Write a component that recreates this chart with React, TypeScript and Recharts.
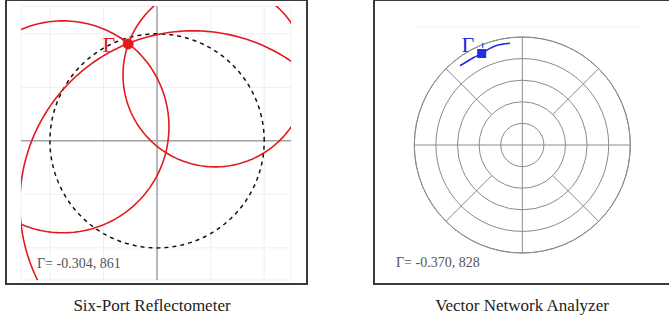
import React from "react";
import {
  ComposedChart,
  Line,
  XAxis,
  YAxis,
  CartesianGrid,
  ReferenceLine,
  ReferenceDot,
  RadarChart,
  PolarGrid,
} from "recharts";

const SERIF = '"Liberation Serif", "Times New Roman", serif';
const RED = "#e3191f";
const BLUE = "#1f2fe0";

// six-port panel (reflection plane, unit circle = |Γ| = 1)
const SP_X_TICKS = [-1, -0.5, 0, 0.5, 1];
const SP_Y_TICKS = [-1, -0.5, 0, 0.5, 1];
const SP_X_DOMAIN = [-1.27, 1.25];
const SP_Y_DOMAIN = [-1.3, 1.26];
const SP_CIRCLE_CX = [-0.879, 0.336, 0.542];
const SP_CIRCLE_CY = [0.131, -0.589, 0.617];
const SP_CIRCLE_R = [0.99, 1.617, 0.86];
const UNIT_CIRCLE_R = 1;
const SP_GAMMA = { x: -0.27, y: 0.905 };
const SP_READOUT = "Γ= -0.304, 861";

// VNA panel
const VNA_RINGS = [0.2, 0.4, 0.6, 0.8, 1];
const VNA_AXIS_ANGLES = [0, 90, 180, 270];
const VNA_DIAG_ANGLES = [45, 135, 225, 315];
const VNA_TRACE_RE = [-0.577, -0.515, -0.454, -0.376, -0.299, -0.253, -0.191, -0.114];
const VNA_TRACE_IM = [0.734, 0.771, 0.808, 0.847, 0.895, 0.917, 0.932, 0.942];
const VNA_GAMMA = { x: -0.376, y: 0.847 };
const VNA_READOUT = "Γ= -0.370, 828";

const VNA_OUTER = 108;

function circlePoints(cx: number, cy: number, r: number, steps = 240) {
  const pts = [];
  for (let i = 0; i <= steps; i++) {
    const t = (i / steps) * Math.PI * 2;
    pts.push({ x: cx + r * Math.cos(t), y: cy + r * Math.sin(t) });
  }
  return pts;
}

const vnaTrace = VNA_TRACE_RE.map((x, i) => ({ x, y: VNA_TRACE_IM[i] }));

const boxStyle: React.CSSProperties = {
  position: "absolute",
  top: -1,
  height: 286,
  border: "2px solid #3a3a3a",
  boxSizing: "border-box",
  background: "#fff",
};

const readoutStyle: React.CSSProperties = {
  position: "absolute",
  fontFamily: SERIF,
  fontSize: 14,
  color: "#555",
  whiteSpace: "nowrap",
};

const captionStyle: React.CSSProperties = {
  position: "absolute",
  top: 296,
  width: 300,
  textAlign: "center",
  fontFamily: SERIF,
  fontSize: 17,
  color: "#222",
};

function SixPort() {
  return (
    <ComposedChart
      width={310}
      height={285}
      margin={{ top: 6, left: 21, right: 19, bottom: 5 }}
      style={{ position: "absolute", left: 0, top: 0 }}
    >
      <XAxis dataKey="x" type="number" domain={SP_X_DOMAIN} ticks={SP_X_TICKS} allowDataOverflow hide />
      <YAxis dataKey="y" type="number" domain={SP_Y_DOMAIN} ticks={SP_Y_TICKS} allowDataOverflow hide />
      <CartesianGrid stroke="#efefef" strokeWidth={1} />
      <ReferenceLine x={0} stroke="#a3a3a3" strokeWidth={1.5} />
      <ReferenceLine y={0} stroke="#a3a3a3" strokeWidth={1.5} />
      <Line
        data={circlePoints(0, 0, UNIT_CIRCLE_R)}
        dataKey="y"
        name="unit"
        type="linear"
        dot={false}
        stroke="#111"
        strokeWidth={1.5}
        strokeDasharray="4 4"
        isAnimationActive={false}
      />
      {SP_CIRCLE_R.map((r, i) => (
        <Line
          key={i}
          data={circlePoints(SP_CIRCLE_CX[i], SP_CIRCLE_CY[i], r)}
          dataKey="y"
          name={`circle${i}`}
          type="linear"
          dot={false}
          stroke={RED}
          strokeWidth={1.6}
          isAnimationActive={false}
        />
      ))}
      <ReferenceDot
        x={SP_GAMMA.x}
        y={SP_GAMMA.y}
        r={5}
        fill={RED}
        stroke={RED}
        label={{ value: "Γ", position: "left", offset: 8, fill: RED, fontSize: 22, fontFamily: SERIF }}
      />
    </ComposedChart>
  );
}

function VnaGrid() {
  const chartProps = {
    width: 296,
    height: 285,
    cx: 148.3,
    cy: 145,
    outerRadius: VNA_OUTER,
    margin: { top: 0, right: 0, bottom: 0, left: 0 },
    data: VNA_RINGS.map((v) => ({ v })),
  };
  return (
    <>
      <RadarChart {...chartProps} style={{ position: "absolute", left: 374, top: 0 }}>
        <PolarGrid
          gridType="circle"
          polarAngles={VNA_AXIS_ANGLES}
          polarRadius={VNA_RINGS.map((v) => v * VNA_OUTER)}
          stroke="#8a8a8a"
        />
      </RadarChart>
      <RadarChart
        {...chartProps}
        innerRadius={VNA_RINGS[1] * VNA_OUTER}
        style={{ position: "absolute", left: 374, top: 0 }}
      >
        <PolarGrid gridType="circle" polarAngles={VNA_DIAG_ANGLES} polarRadius={[VNA_OUTER]} stroke="#8a8a8a" />
      </RadarChart>
    </>
  );
}

function VnaTrace() {
  return (
    <ComposedChart
      width={296}
      height={285}
      margin={{ top: 4.6, left: 7.9, right: 7.3, bottom: 10.4 }}
      style={{ position: "absolute", left: 374, top: 0 }}
    >
      <XAxis dataKey="x" type="number" domain={[-1.3, 1.3]} allowDataOverflow hide />
      <YAxis dataKey="y" type="number" domain={[-1.2, 1.3]} allowDataOverflow hide />
      <ReferenceLine
        segment={[
          { x: -1.01, y: 1.093 },
          { x: 1.12, y: 1.093 },
        ]}
        stroke="#f4f4f4"
      />
      <Line
        data={vnaTrace}
        dataKey="y"
        type="monotone"
        dot={false}
        stroke={BLUE}
        strokeWidth={1.6}
        isAnimationActive={false}
      />
      <ReferenceLine
        segment={[
          { x: VNA_GAMMA.x + 0.01, y: VNA_GAMMA.y + 0.05 },
          { x: VNA_GAMMA.x + 0.01, y: VNA_GAMMA.y + 0.1 },
        ]}
        stroke={BLUE}
      />
      <ReferenceDot
        x={VNA_GAMMA.x}
        y={VNA_GAMMA.y}
        r={4.5}
        shape={(p: any) => (
          <rect x={p.cx - 4.5} y={p.cy - 4.5} width={9} height={9} fill={BLUE} />
        )}
        label={{
          content: (p: any) => {
            const vb = p.viewBox || {};
            return (
              <text x={vb.x - 3} y={vb.y + 3} textAnchor="end" fill={BLUE} fontSize={22} fontFamily={SERIF}>
                Γ
              </text>
            );
          },
        }}
      />
    </ComposedChart>
  );
}

export default function App() {
  return (
    <div
      style={{
        position: "absolute",
        left: 0,
        top: 0,
        width: 669,
        height: 321,
        overflow: "hidden",
        background: "#fff",
      }}
    >
      <div style={{ ...boxStyle, left: 5, width: 303 }} />
      <div style={{ ...boxStyle, left: 373, width: 310 }} />
      <SixPort />
      <VnaGrid />
      <VnaTrace />
      <div style={{ ...readoutStyle, left: 37, top: 256 }}>{SP_READOUT}</div>
      <div style={{ ...readoutStyle, left: 396, top: 255 }}>{VNA_READOUT}</div>
      <div style={{ ...captionStyle, left: 2 }}>Six-Port Reflectometer</div>
      <div style={{ ...captionStyle, left: 372 }}>Vector Network Analyzer</div>
    </div>
  );
}
